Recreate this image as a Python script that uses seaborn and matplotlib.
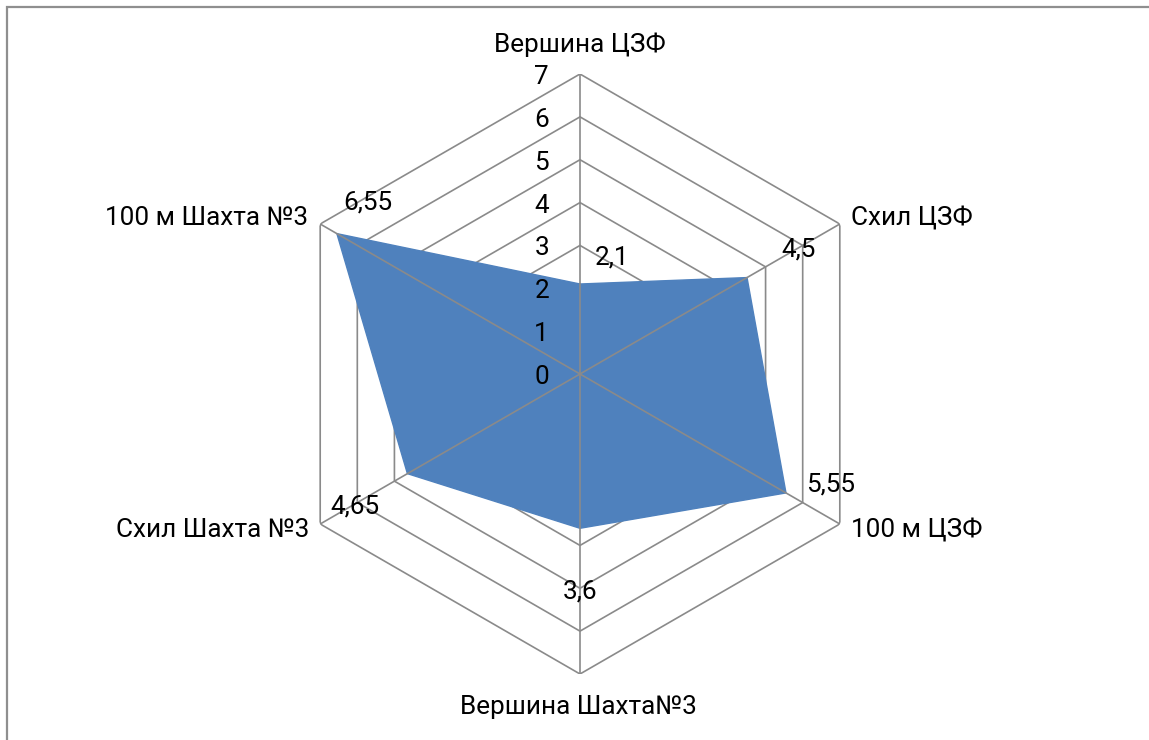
import numpy as np
import matplotlib
matplotlib.use("Agg")
import matplotlib.pyplot as plt
from matplotlib.patches import Rectangle
import seaborn as sns

# Categories (clockwise from the top) and their values
categories = ["Вершина ЦЗФ", "Схил ЦЗФ", "100 м ЦЗФ",
              "Вершина Шахта№3", "Схил Шахта №3", "100 м Шахта №3"]
values = [2.1, 4.5, 5.55, 3.6, 4.65, 6.55]
ring_levels = [0, 1, 2, 3, 4, 5, 6, 7]
r_max = 7

# Label placement (pixel offsets from the anchor point)
cat_offsets = [(0, 29, "center"), (11, 6, "left"), (11, -6, "left"),
               (-2, -33, "center"), (-11, -6, "right"), (-12, 6, "right")]
val_offsets = [(32, 26), (52, 28), (45, 8), (0, -63), (-52, -33), (31, 31)]

sns.set_theme(style="white")
plt.rcParams["font.family"] = ["Roboto", "DejaVu Sans"]

FILL = "#4F81BD"
GRID = "#8A8A8A"
FS = 18.8

W, H = 1149, 740
fig = plt.figure(figsize=(W / 100, H / 100), dpi=100)
fig.patch.set_facecolor("white")

cx, cy, rad = 580, 374, 300
ax = fig.add_axes([(cx - rad) / W, 1 - (cy + rad) / H, 2 * rad / W, 2 * rad / H],
                  projection="polar")
ax.set_theta_zero_location("N")
ax.set_theta_direction(-1)
ax.set_ylim(0, r_max)
ax.grid(False)
ax.spines["polar"].set_visible(False)
ax.set_xticks([])
ax.set_yticks([])
ax.patch.set_alpha(0)

n = len(categories)
theta = np.arange(n) * 2 * np.pi / n
theta_c = np.append(theta, theta[0])

# Hexagonal rings (behind the filled area)
for lvl in ring_levels[1:]:
    ax.plot(theta_c, [lvl] * (n + 1), color=GRID, lw=1.2, zorder=1)

# Filled series
vals_c = np.append(values, values[0])
ax.fill(theta_c, vals_c, color=FILL, zorder=2, lw=0)
sns.lineplot(x=theta_c, y=vals_c, sort=False, estimator=None, color=FILL,
             lw=1, ax=ax, zorder=2)

# Spokes drawn over the fill
for t in theta:
    ax.plot([t, t], [0, r_max], color=GRID, lw=1.2, zorder=3)

# Radial tick labels along the vertical spoke
for lvl in ring_levels:
    ax.annotate(str(lvl), xy=(0, lvl), xytext=(-31, -3), textcoords="offset pixels",
                ha="right", va="center", fontsize=FS, color="black", zorder=4)

# Category labels
for t, name, (dx, dy, ha) in zip(theta, categories, cat_offsets):
    ax.annotate(name, xy=(t, r_max), xytext=(dx, dy), textcoords="offset pixels",
                ha=ha, va="center", fontsize=FS, color="black",
                annotation_clip=False)

# Data labels
for t, v, (dx, dy) in zip(theta, values, val_offsets):
    ax.annotate(str(v).replace(".", ","), xy=(t, v), xytext=(dx, dy),
                textcoords="offset pixels", ha="center", va="center",
                fontsize=FS, color="black", zorder=4, annotation_clip=False)

# Chart area border
fig.add_artist(Rectangle((7 / W, -0.05), 1.2, 1 - 7 / H + 0.05,
                         transform=fig.transFigure, fill=False,
                         ec="#8f8f8f", lw=1.6))

fig.savefig("out.png", dpi=100, facecolor="white")
